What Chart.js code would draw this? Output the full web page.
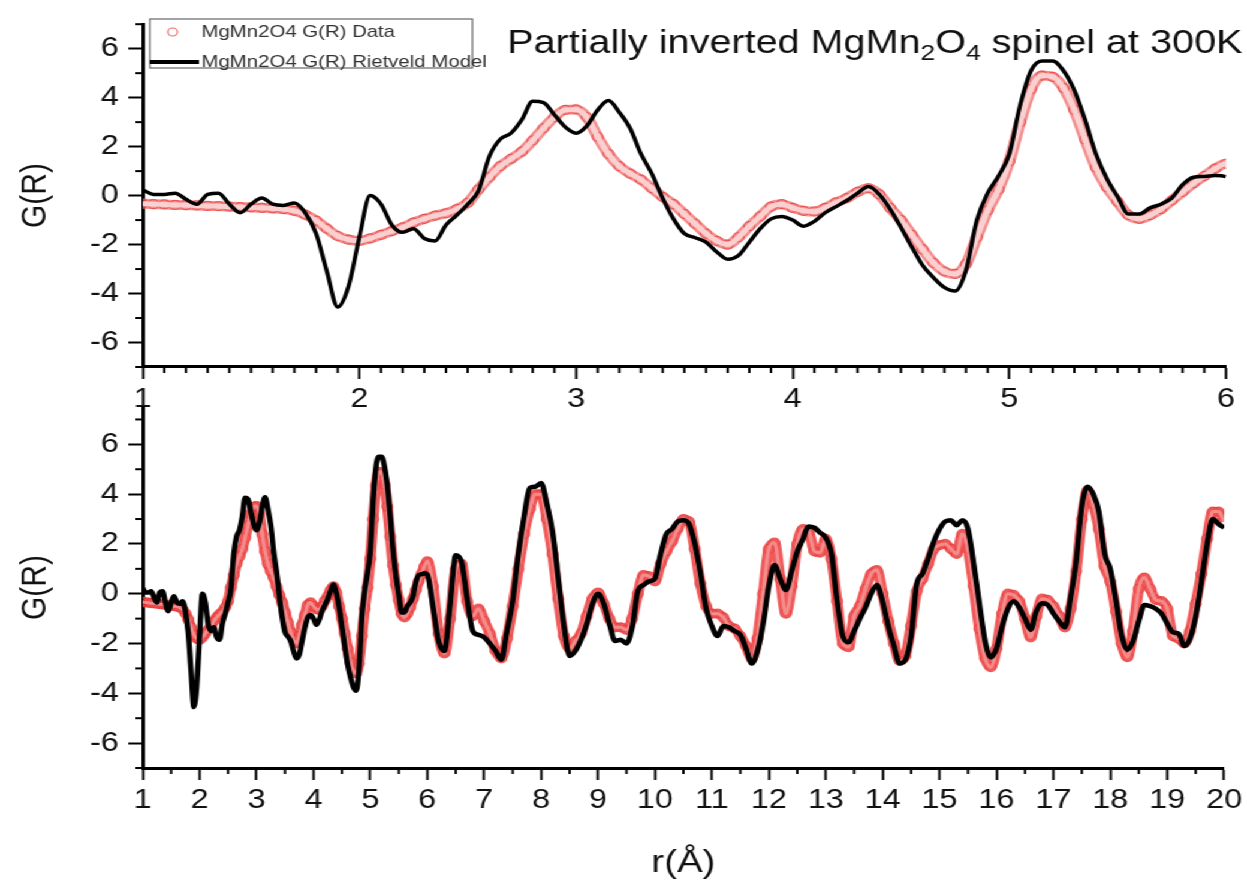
<!DOCTYPE html>
<html>
<head>
<meta charset="utf-8">
<script src="https://cdn.jsdelivr.net/npm/chart.js@4.4.1/dist/chart.umd.min.js"></script>
<style>
	html, body { margin: 0; padding: 0; background: #fff; overflow: hidden; }
	#stage {
		position: absolute; left: 0; top: 0;
		width: 1040px; height: 888px;
		transform: scaleX(1.199); transform-origin: 0 0;
	}
	#stage canvas { position: absolute; left: 0; top: 0; }
</style>
</head>
<body>
<div id="stage">
	<canvas id="topChart" width="1040" height="888"></canvas>
	<canvas id="bottomChart" width="1040" height="888"></canvas>
</div>
<script>
// r in Angstrom: 0.05 steps up to 6, then 0.1 steps up to 20
const r = [
	1.00, 1.05, 1.10, 1.15, 1.20, 1.25, 1.30, 1.35, 1.40, 1.45,
	1.50, 1.55, 1.60, 1.65, 1.70, 1.75, 1.80, 1.85, 1.90, 1.95,
	2.00, 2.05, 2.10, 2.15, 2.20, 2.25, 2.30, 2.35, 2.40, 2.45,
	2.50, 2.55, 2.60, 2.65, 2.70, 2.75, 2.80, 2.85, 2.90, 2.95,
	3.00, 3.05, 3.10, 3.15, 3.20, 3.25, 3.30, 3.35, 3.40, 3.45,
	3.50, 3.55, 3.60, 3.65, 3.70, 3.75, 3.80, 3.85, 3.90, 3.95,
	4.00, 4.05, 4.10, 4.15, 4.20, 4.25, 4.30, 4.35, 4.40, 4.45,
	4.50, 4.55, 4.60, 4.65, 4.70, 4.75, 4.80, 4.85, 4.90, 4.95,
	5.00, 5.05, 5.10, 5.15, 5.20, 5.25, 5.30, 5.35, 5.40, 5.45,
	5.50, 5.55, 5.60, 5.65, 5.70, 5.75, 5.80, 5.85, 5.90, 5.95,
	6.00,
	6.1, 6.2, 6.3, 6.4, 6.5, 6.6, 6.7, 6.8, 6.9, 7.0,
	7.1, 7.2, 7.3, 7.4, 7.5, 7.6, 7.7, 7.8, 7.9, 8.0,
	8.1, 8.2, 8.3, 8.4, 8.5, 8.6, 8.7, 8.8, 8.9, 9.0,
	9.1, 9.2, 9.3, 9.4, 9.5, 9.6, 9.7, 9.8, 9.9, 10.0,
	10.1, 10.2, 10.3, 10.4, 10.5, 10.6, 10.7, 10.8, 10.9, 11.0,
	11.1, 11.2, 11.3, 11.4, 11.5, 11.6, 11.7, 11.8, 11.9, 12.0,
	12.1, 12.2, 12.3, 12.4, 12.5, 12.6, 12.7, 12.8, 12.9, 13.0,
	13.1, 13.2, 13.3, 13.4, 13.5, 13.6, 13.7, 13.8, 13.9, 14.0,
	14.1, 14.2, 14.3, 14.4, 14.5, 14.6, 14.7, 14.8, 14.9, 15.0,
	15.1, 15.2, 15.3, 15.4, 15.5, 15.6, 15.7, 15.8, 15.9, 16.0,
	16.1, 16.2, 16.3, 16.4, 16.5, 16.6, 16.7, 16.8, 16.9, 17.0,
	17.1, 17.2, 17.3, 17.4, 17.5, 17.6, 17.7, 17.8, 17.9, 18.0,
	18.1, 18.2, 18.3, 18.4, 18.5, 18.6, 18.7, 18.8, 18.9, 19.0,
	19.1, 19.2, 19.3, 19.4, 19.5, 19.6, 19.7, 19.8, 19.9, 20.0,
]

// measured G(R)
const gData = [
	-0.33, -0.35, -0.36, -0.38, -0.39, -0.4, -0.42, -0.43, -0.45, -0.47,
	-0.48, -0.5, -0.52, -0.55, -0.62, -0.78, -1.02, -1.35, -1.65, -1.8,
	-1.85, -1.75, -1.6, -1.45, -1.3, -1.1, -0.95, -0.82, -0.72, -0.55,
	-0.3, 0.25, 0.75, 1.2, 1.5, 1.8, 2.25, 2.75, 3.2, 3.5,
	3.52, 3.2, 2.4, 1.7, 1.2, 0.9, 0.65, 0.3, -0.05, -0.35,
	-0.75, -1.15, -1.55, -1.85, -2.0, -1.7, -1.25, -0.85, -0.45, -0.35,
	-0.5, -0.62, -0.65, -0.5, -0.28, -0.1, 0.15, 0.3, 0.05, -0.5,
	-1.0, -1.6, -2.2, -2.75, -3.1, -3.2, -2.8, -1.7, -0.6, 0.25,
	1.4, 3.0, 4.35, 4.9, 4.85, 4.4, 3.5, 2.3, 1.15, 0.35,
	-0.25, -0.8, -0.95, -0.8, -0.55, -0.2, 0.15, 0.5, 0.8, 1.1,
	1.3,
	0.3, -1.6, -2.4, -1.0, 1.0, 1.2, -0.3, -0.9, -0.6, -1.1,
	-1.6, -2.3, -2.6, -1.8, -0.5, 1.0, 2.4, 3.4, 4.0, 4.0,
	3.0, 1.6, -0.2, -1.7, -2.2, -1.9, -1.6, -0.9, -0.2, 0.05,
	-0.4, -1.0, -1.35, -1.35, -1.45, -1.0, 0.0, 0.75, 0.7, 0.5,
	1.2, 1.7, 2.1, 2.6, 3.0, 2.9, 1.8, 0.4, -0.5, -0.8,
	-0.8, -0.95, -1.3, -1.4, -1.7, -2.1, -2.6, -1.8, 0.0, 1.8,
	2.05, 0.6, -0.8, 0.3, 2.0, 2.6, 2.5, 1.7, 1.65, 2.2,
	1.4, -0.3, -2.0, -2.15, -0.9, -0.5, 0.2, 0.8, 0.95, 0.0,
	-1.1, -2.0, -2.7, -2.5, -1.3, 0.1, 0.6, 1.2, 1.8, 1.95,
	2.0, 1.8, 1.6, 2.4, 1.8, 0.3, -1.4, -2.6, -2.95, -2.2,
	-0.8, 0.0, -0.05, -0.3, -1.0, -1.75, -0.9, -0.2, -0.25, -0.5,
	-0.9, -1.35, -0.6, 0.9, 3.0, 4.15, 3.6, 2.6, 1.1, 0.5,
	-0.7, -2.0, -2.55, -1.5, 0.2, 0.65, 0.2, -0.25, -0.3, -0.6,
	-1.7, -1.8, -2.0, -1.5, -0.4, 0.8, 2.2, 3.3, 3.3, 2.9,
]

// Rietveld model G(R)
const gModel = [
	0.24, 0.05, 0.05, 0.1, -0.15, -0.35, 0.05, 0.1, -0.35, -0.7,
	-0.35, -0.1, -0.35, -0.4, -0.3, -0.7, -1.55, -3.1, -4.55, -3.7,
	-1.7, 0.0, -0.35, -1.2, -1.5, -1.35, -1.75, -1.85, -1.2, -0.8,
	-0.35, 0.2, 1.6, 2.3, 2.55, 3.1, 3.85, 3.8, 3.3, 2.8,
	2.55, 2.85, 3.5, 3.88, 3.4, 2.75, 1.7, 0.9, -0.1, -0.95,
	-1.55, -1.72, -1.9, -2.3, -2.6, -2.45, -1.9, -1.35, -0.95, -0.85,
	-1.0, -1.25, -1.05, -0.7, -0.45, -0.2, 0.1, 0.37, 0.05, -0.55,
	-1.3, -2.1, -2.85, -3.35, -3.75, -3.9, -3.05, -1.0, 0.1, 0.8,
	1.7, 3.7, 5.1, 5.5, 5.5, 5.1, 4.3, 3.1, 1.7, 0.7,
	-0.05, -0.75, -0.75, -0.5, -0.35, -0.1, 0.45, 0.75, 0.78, 0.82,
	0.77,
	-0.5, -1.9, -2.3, -0.5, 1.55, 1.3, -0.2, -1.5, -1.65, -1.75,
	-2.0, -2.3, -2.65, -1.5, -0.3, 1.6, 3.1, 4.25, 4.3, 4.45,
	3.6, 2.5, 0.6, -1.3, -2.5, -2.3, -1.85, -1.2, -0.4, 0.0,
	-0.4, -1.2, -1.9, -1.85, -2.0, -1.35, 0.1, 0.35, 0.5, 0.6,
	1.6, 2.4, 2.6, 2.9, 2.95, 2.8, 2.0, 0.8, -0.6, -1.3,
	-1.7, -1.3, -1.35, -1.5, -1.65, -2.2, -2.8, -2.3, -1.2, 0.3,
	1.15, 0.6, 0.15, 0.9, 1.7, 2.2, 2.7, 2.65, 2.45, 2.25,
	1.6, -0.3, -1.7, -1.95, -1.5, -1.0, -0.55, 0.0, 0.35, -0.3,
	-1.3, -2.1, -2.8, -2.65, -1.7, 0.4, 0.8, 1.4, 2.1, 2.6,
	2.9, 2.95, 2.75, 2.95, 2.6, 1.2, -0.4, -1.9, -2.55, -2.2,
	-1.3, -0.6, -0.3, -0.55, -1.0, -1.45, -0.7, -0.38, -0.45, -0.8,
	-1.1, -1.35, -0.2, 1.3, 3.5, 4.3, 4.0, 3.3, 1.6, 1.0,
	-0.3, -1.7, -2.25, -1.9, -1.1, -0.45, -0.5, -0.6, -0.8, -1.2,
	-1.55, -1.6, -2.1, -1.8, -0.9, 0.5, 2.0, 3.0, 2.8, 2.65,
]

const rTicksTop = [1, 2, 3, 4, 5, 6]
const rTicksBottom = [1, 2, 3, 4, 5, 6, 7, 8, 9, 10, 11, 12, 13, 14, 15, 16, 17, 18, 19, 20]
const gTicks = [-6, -4, -2, 0, 2, 4, 6]

const seriesNames = ['MgMn2O4 G(R) Data', 'MgMn2O4 G(R) Rietveld Model']
const titleParts = [
	['Partially inverted MgMn', false],
	['2', true],
	['O', false],
	['4', true],
	[' spinel at 300K', false],
]

const FONT = "'Liberation Sans', Arial, sans-serif"
const RED_RING = 'rgba(232,62,62,0.75)'

const points = (ys) => r.map((x, i) => ({ x: x, y: ys[i] }))

// short minor ticks between the labelled ones
const minorTicks = {
	id: 'minorTicks',
	afterDraw(chart, args, opts) {
		const ctx = chart.ctx
		const xs = chart.scales.x
		const ys = chart.scales.y
		ctx.save()
		ctx.strokeStyle = '#000'
		ctx.lineWidth = 2
		const nx = Math.round((xs.max - xs.min) / opts.xStep)
		for (let i = 0; i <= nx; i++) {
			const v = xs.min + i * opts.xStep
			if (Math.abs(v - Math.round(v)) < 1e-6) continue
			const px = xs.getPixelForValue(v)
			ctx.beginPath()
			ctx.moveTo(px, xs.top)
			ctx.lineTo(px, xs.top + 6)
			ctx.stroke()
		}
		for (let v = Math.ceil(ys.min); v <= ys.max; v++) {
			if (v % 2 === 0) continue
			const py = ys.getPixelForValue(v)
			ctx.beginPath()
			ctx.moveTo(ys.right, py)
			ctx.lineTo(ys.right - 6, py)
			ctx.stroke()
		}
		ctx.restore()
	},
}

// boxed legend and heading inside the upper panel
const panelNotes = {
	id: 'panelNotes',
	afterDraw(chart) {
		const ctx = chart.ctx
		ctx.save()
		// legend box
		ctx.strokeStyle = '#666'
		ctx.lineWidth = 1.2
		ctx.strokeRect(125, 19, 269, 49)
		ctx.beginPath()
		ctx.arc(144, 32, 4, 0, Math.PI * 2)
		ctx.strokeStyle = RED_RING
		ctx.lineWidth = 1.2
		ctx.stroke()
		ctx.beginPath()
		ctx.moveTo(125, 62)
		ctx.lineTo(166, 62)
		ctx.strokeStyle = '#000'
		ctx.lineWidth = 4
		ctx.stroke()
		ctx.fillStyle = '#333'
		ctx.font = '17px ' + FONT
		ctx.textBaseline = 'middle'
		ctx.fillText(seriesNames[0], 168, 32)
		ctx.fillText(seriesNames[1], 168, 62)

		// heading with subscripts
		let x = 423
		const base = 53
		ctx.fillStyle = '#111'
		ctx.textBaseline = 'alphabetic'
		titleParts.forEach(([text, sub]) => {
			ctx.font = (sub ? '22px ' : '33px ') + FONT
			ctx.fillText(text, x, sub ? base + 7 : base)
			x += ctx.measureText(text).width
		})
		ctx.restore()
	},
}

const axisStyle = (ticks, min, max, extra) => Object.assign({
	type: 'linear',
	min: min,
	max: max,
	afterBuildTicks: (s) => { s.ticks = ticks.map((v) => ({ value: v })) },
	border: { display: true, color: '#000', width: 3 },
	grid: {
		drawOnChartArea: false,
		drawTicks: true,
		tickLength: 12,
		tickColor: '#000',
		tickWidth: 2,
	},
}, extra)

const makePanel = (id, opts) => new Chart(document.getElementById(id), {
	type: 'line',
	data: {
		datasets: [
			{
				label: seriesNames[1],
				data: points(gModel),
				borderColor: '#000',
				borderWidth: opts.modelWidth,
				pointRadius: 0,
				cubicInterpolationMode: 'monotone',
				order: 1,
			},
			{
				// pale core of the measured band
				label: seriesNames[0] + ' core',
				data: points(gData),
				borderColor: opts.bandCore,
				borderWidth: opts.coreWidth,
				pointRadius: 0,
				cubicInterpolationMode: 'monotone',
				order: 2,
			},
			{
				label: seriesNames[0],
				data: points(gData),
				borderColor: opts.bandEdge,
				borderWidth: opts.bandWidth,
				cubicInterpolationMode: 'monotone',
				pointStyle: 'circle',
				pointRadius: 4.5,
				pointBorderWidth: 1.2,
				pointBorderColor: RED_RING,
				pointBackgroundColor: 'rgba(255,255,255,0)',
				order: 3,
			},
		],
	},
	options: {
		responsive: false,
		animation: false,
		devicePixelRatio: 1,
		layout: { padding: opts.padding },
		plugins: {
			legend: { display: false },
			tooltip: { enabled: false },
			minorTicks: { xStep: opts.minorX },
		},
		scales: {
			x: axisStyle(opts.xTicks, 1, opts.xMax, {
				afterFit: (s) => { s.height = opts.xHeight },
				ticks: {
					color: '#111',
					font: { family: FONT, size: 27 },
					maxRotation: 0,
					autoSkip: false,
					padding: 4,
				},
				title: opts.xTitle,
			}),
			y: axisStyle(gTicks, -7, opts.yMax, {
				afterFit: (s) => { s.width = 119 },
				ticks: {
					color: '#111',
					font: { family: FONT, size: 27 },
					padding: 8,
				},
				title: {
					display: true,
					text: 'G(R)',
					color: '#111',
					font: { family: FONT, size: 30 },
					padding: { top: 12, bottom: 0 },
				},
			}),
		},
	},
	plugins: opts.plugins,
})

// upper panel: 1-6 A close-up
makePanel('topChart', {
	xMax: 6,
	yMax: 7,
	xTicks: rTicksTop,
	minorX: 0.1,
	modelWidth: 3.5,
	bandEdge: 'rgba(238,96,96,0.7)',
	bandWidth: 10,
	bandCore: 'rgba(252,214,214,0.92)',
	coreWidth: 5,
	xHeight: 50,
	padding: { top: 15, right: 17.5, bottom: 471, left: 0 },
	xTitle: { display: false },
	plugins: [minorTicks, panelNotes],
})

// lower panel: full 1-20 A range
makePanel('bottomChart', {
	xMax: 20,
	yMax: 7.5,
	xTicks: rTicksBottom,
	minorX: 0.5,
	modelWidth: 4.5,
	bandEdge: 'rgba(236,48,48,0.8)',
	bandWidth: 9,
	bandCore: 'rgba(246,150,150,0.85)',
	coreWidth: 3,
	xHeight: 120,
	padding: { top: 407, right: 17.5, bottom: 0, left: 0 },
	xTitle: {
		display: true,
		text: 'r(Å)',
		color: '#111',
		font: { family: FONT, size: 32 },
		padding: { top: 0, bottom: 6 },
	},
	plugins: [minorTicks],
})
</script>
</body>
</html>
